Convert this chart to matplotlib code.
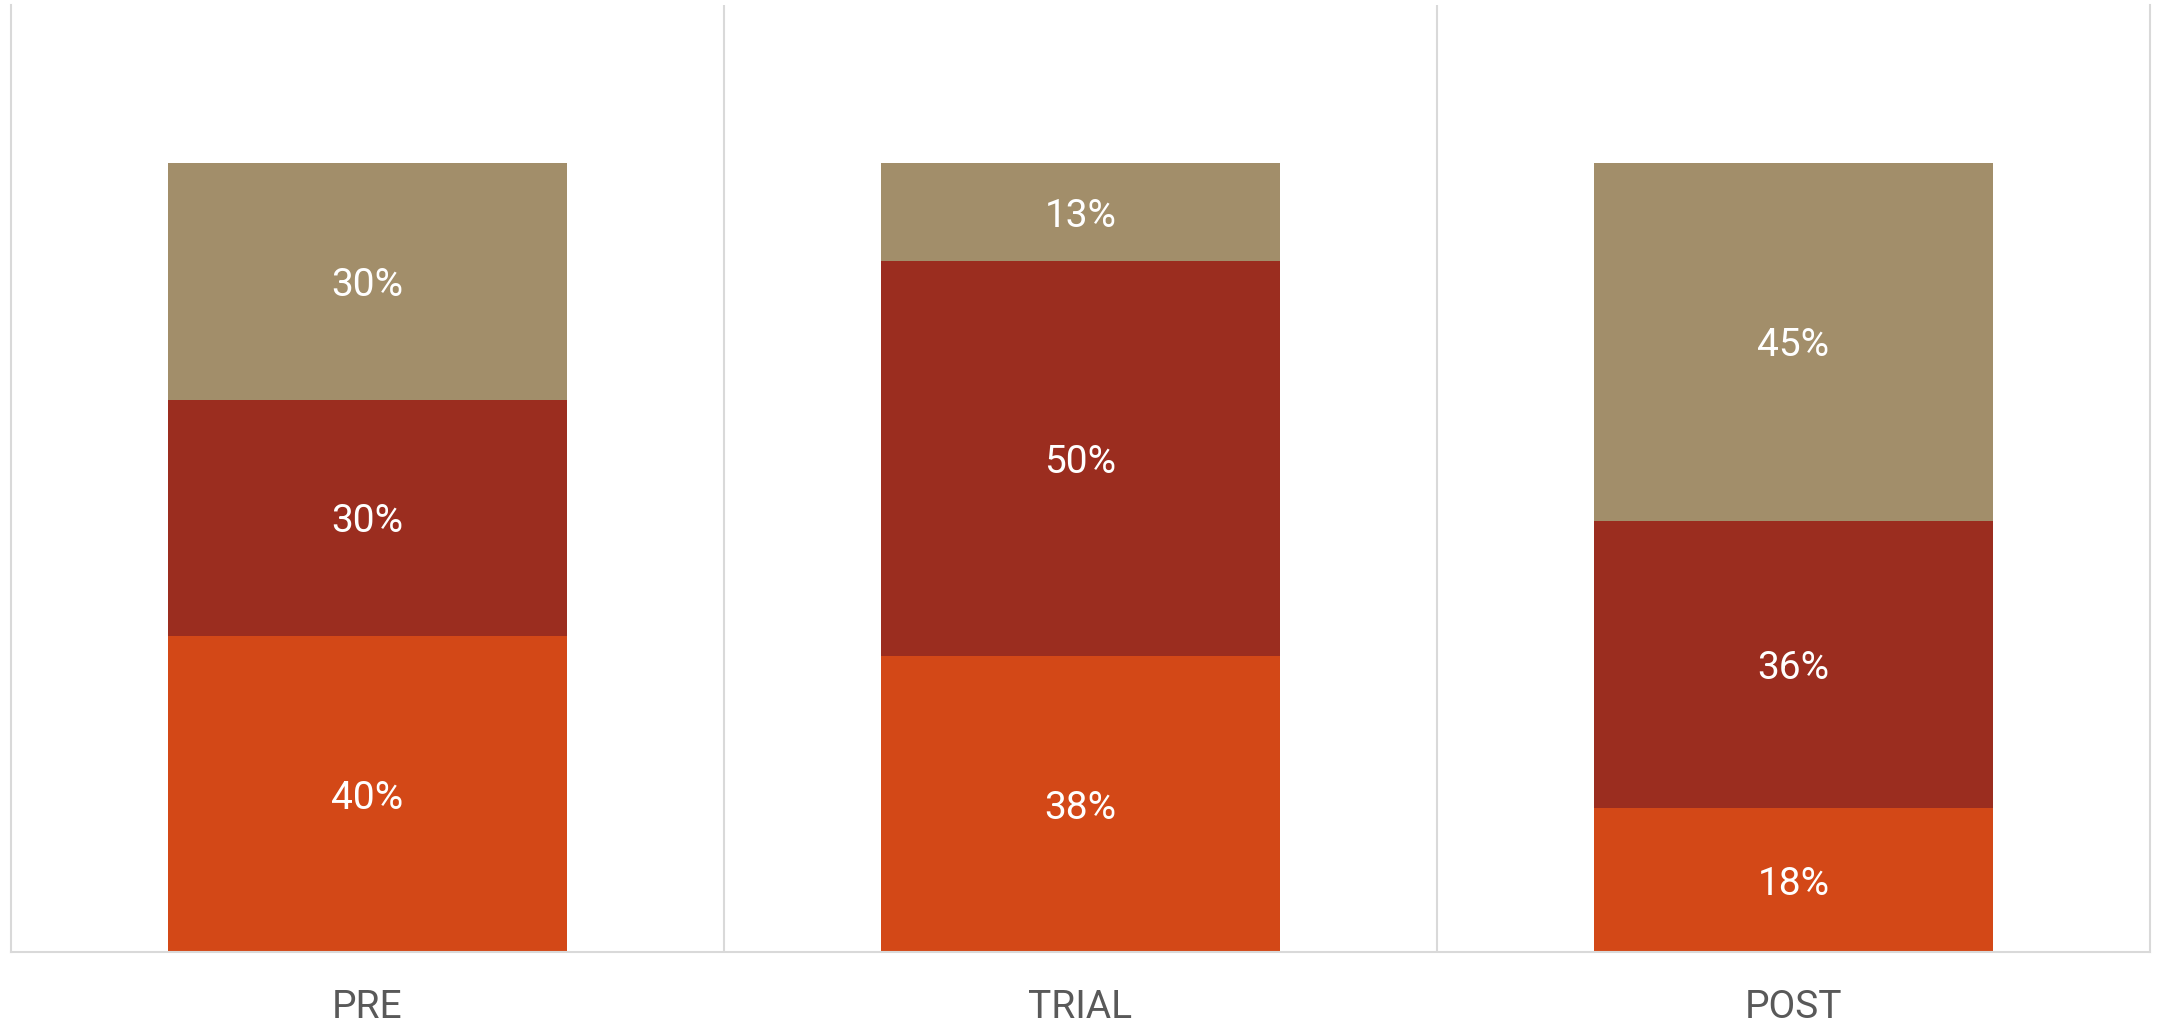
import matplotlib.pyplot as plt
import numpy as np

plt.rcParams["font.family"] = ["Roboto", "DejaVu Sans"]

# data (percent of each phase)
Phases = ["PRE", "TRIAL", "POST"]
Bottom = [40.0, 37.5, 18.2]
Middle = [30.0, 50.0, 36.4]
Top = [30.0, 12.5, 45.4]

Colors = ["#D34817", "#9B2D1F", "#A28E6A"]

fig = plt.figure(figsize=(21.64, 10.26), dpi=100)
ax = fig.add_axes([11 / 2164, 1 - 952 / 1026, 2139 / 2164, 947 / 1026])

x = np.arange(len(Phases))
width = 0.56
base = np.zeros(len(Phases))
for series, color in zip([Bottom, Middle, Top], Colors):
    vals = np.array(series)
    ax.bar(x, vals, width, bottom=base, color=color, zorder=2)
    for xi, b, v in zip(x, base, vals):
        # round half up like the source chart (12.5 -> 13)
        ax.text(xi, b + v / 2, f"{int(v + 0.5)}%", ha="center",
                va="center_baseline", color="white", fontsize=28, zorder=3)
    base += vals

ax.set_xlim(-0.5, len(Phases) - 0.5)
ax.set_ylim(0, 120)

# category separators
for b in np.arange(0.5, len(Phases) - 0.5):
    ax.axvline(b, color="#D9D9D9", lw=1.5, zorder=1)

ax.spines["top"].set_visible(False)
for side in ["left", "right", "bottom"]:
    ax.spines[side].set_color("#D9D9D9")
    ax.spines[side].set_linewidth(1.5)

ax.set_yticks([])
ax.set_xticks(x)
ax.set_xticklabels(Phases, fontsize=28, color="#595959")
ax.tick_params(axis="x", length=0, pad=27)

plt.savefig("out.png", dpi=100)
